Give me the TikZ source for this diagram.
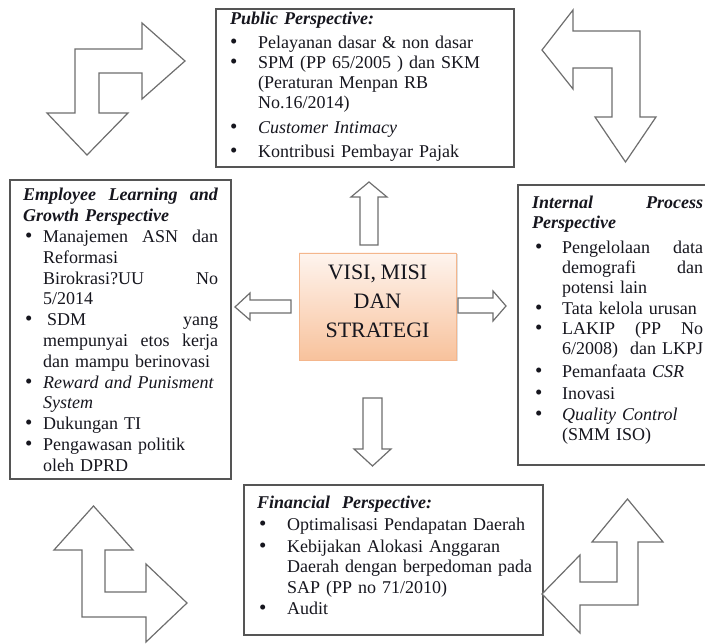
\documentclass[tikz,border=0pt]{standalone}
\usepackage{fontspec}
\setmainfont[WordSpace=0.85]{Liberation Serif}
\usetikzlibrary{shadows}
\definecolor{boxgray}{HTML}{555555}
\definecolor{arrgray}{HTML}{6E6E6E}
\definecolor{peachtop}{HTML}{FEF4EE}
\definecolor{peachbot}{HTML}{F8C29C}
\definecolor{peachline}{HTML}{F4B68C}
\definecolor{txtcol}{HTML}{16161E}
\newlength\tind \newlength\bofs \newlength\colw
\newcommand\bul{{\fontsize{21}{20}\selectfont\textbullet}}
\newcommand\BL[1]{\makebox[\tind][l]{\hspace*{\bofs}\bul}#1}
\newcommand\CL[1]{\hspace*{\tind}#1}
\newcommand\BJ[1]{\makebox[\tind][l]{\hspace*{\bofs}\bul}\makebox[\colw][l]{#1}}
\newcommand\CJ[1]{\hspace*{\tind}\makebox[\colw][l]{#1}}
\newcommand\BI[1]{\textbf{\textit{#1}}}
\begin{document}
\begin{tikzpicture}[x=1pt,y=-1pt,
  box/.style={draw=boxgray, line width=1.3pt},
  txt/.style={anchor=base west, inner sep=0pt, align=left, text width=#1, text=txtcol},
  barrow/.style={draw=arrgray, fill=white, line width=1.2pt, line join=miter},
]
\useasboundingbox[fill=white] (0,0) rectangle (705,644);

% ---------- boxes ----------
\draw[box] (216,9) rectangle (514,167);
\draw[box] (10,180) rectangle (231,479);
\draw[box] (518,185) rectangle (720,465);
\draw[box] (244,485) rectangle (543,635);

% ---------- Public ----------
\node[txt=290pt, font=\fontsize{18}{20}\selectfont] (pub) at (230,25) {%
\setlength\tind{28pt}\setlength\bofs{0pt}%
\BI{Public Perspective:}\\[4pt]
\BL{Pelayanan dasar \& non dasar}\\
\BL{SPM (PP 65/2005 ) dan SKM}\\
\CL{(Peraturan Menpan RB}\\
\CL{No.16/2014)}\\[5pt]
\BL{\textit{Customer Intimacy}}\\[4pt]
\BL{Kontribusi Pembayar Pajak}};

% ---------- Employee ----------
\node[txt=205pt, font=\fontsize{18}{20.8}\selectfont] (emp) at (23,201) {%
\setlength\tind{20pt}\setlength\bofs{2pt}\setlength\colw{175pt}%
\makebox[195pt][l]{\BI{Employee\hfill Learning\hfill and}}\\
\BI{Growth Perspective}\\
\BJ{Manajemen\hfill ASN\hfill dan}\\
\CL{Reformasi}\\
\CJ{Birokrasi?UU\hfill No}\\
\CL{5/2014}\\
\BJ{\hspace{4pt}SDM\hfill yang}\\
\CJ{mempunyai\hfill etos\hfill kerja}\\
\CL{dan mampu berinovasi}\\
\BL{\textit{Reward and Punisment}}\\
\CL{\textit{System}}\\
\BL{Dukungan TI}\\
\BL{Pengawasan politik}\\
\CL{oleh DPRD}};

% ---------- Internal ----------
\node[txt=180pt, font=\fontsize{18}{20}\selectfont] (int) at (532,209) {%
\setlength\tind{30pt}\setlength\bofs{3pt}\setlength\colw{141pt}%
\makebox[171pt][l]{\BI{Internal\hfill Process}}\\
\BI{Perspective}\\[5pt]
\BJ{Pengelolaan\hfill data}\\
\CJ{demografi\hfill dan}\\
\CL{potensi lain}\\[1pt]
\BL{Tata kelola urusan}\\
\BJ{LAKIP\hfill (PP\hfill No}\\
\CL{6/2008)\ \ dan LKPJ}\\[3pt]
\BL{Pemanfaata \textit{CSR}}\\[2pt]
\BL{Inovasi}\\[1pt]
\BL{\textit{Quality Control}}\\
\CL{(SMM ISO)}};

% ---------- Financial ----------
\node[txt=290pt, font=\fontsize{18}{20}\selectfont] (fin) at (257,508) {%
\setlength\tind{30pt}\setlength\bofs{2pt}%
\BI{Financial\ \ Perspective:}\\[3pt]
\BL{Optimalisasi Pendapatan Daerah}\\[2pt]
\BL{Kebijakan Alokasi Anggaran}\\
\CL{Daerah dengan berpedoman pada}\\[1pt]
\CL{SAP (PP no 71/2010)}\\[1pt]
\BL{Audit}};

% ---------- centre ----------
\node[draw=peachline, line width=0.8pt, top color=peachtop, bottom color=peachbot,
      minimum width=157pt, minimum height=107pt, inner sep=0pt,
      drop shadow={shadow xshift=1.5pt, shadow yshift=-1.5pt, opacity=0.25}]
      (vms) at (377.5,306.5) {};
\node[align=center, inner sep=0pt, text=txtcol, font=\fontsize{22}{29}\selectfont]
      (vmstxt) at (377.5,301) {VISI, MISI\\DAN\\STRATEGI};

% ---------- straight block arrows ----------
\draw[barrow] (369,182) -- (387,197) -- (378,197) -- (378,245) -- (360,245) -- (360,197) -- (351,197) -- cycle;
\draw[barrow] (235,307) -- (250,293) -- (250,300) -- (291,300) -- (291,313) -- (250,313) -- (250,320) -- cycle;
\draw[barrow] (506,306) -- (493,291) -- (493,298) -- (458,298) -- (458,313) -- (493,313) -- (493,321) -- cycle;
\draw[barrow] (372.5,466) -- (391,449) -- (382,449) -- (382,398) -- (363,398) -- (363,449) -- (354,449) -- cycle;

% ---------- bent block arrows ----------
\draw[barrow] (87,155) -- (47,113) -- (75,113) -- (75,49) -- (142,49) -- (142,23) -- (185,61)
  -- (142,99) -- (142,73) -- (99,73) -- (99,113) -- (128,113) -- cycle;
\draw[barrow] (542,50) -- (573,10) -- (573,31) -- (640,31) -- (640,117) -- (656,117) -- (625.5,162)
  -- (595,117) -- (612,117) -- (612,68) -- (573,68) -- (573,89) -- cycle;
\draw[barrow] (93.5,506) -- (133,550) -- (105,550) -- (105,592) -- (146,592) -- (146,564) -- (187,603)
  -- (146,642) -- (146,617) -- (82,617) -- (82,550) -- (54,550) -- cycle;
\draw[barrow] (627.5,499) -- (663,542) -- (638,542) -- (638,605) -- (580,605) -- (580,633) -- (542,594)
  -- (580,555) -- (580,582) -- (617,582) -- (617,542) -- (592,542) -- cycle;
\end{tikzpicture}
\end{document}
